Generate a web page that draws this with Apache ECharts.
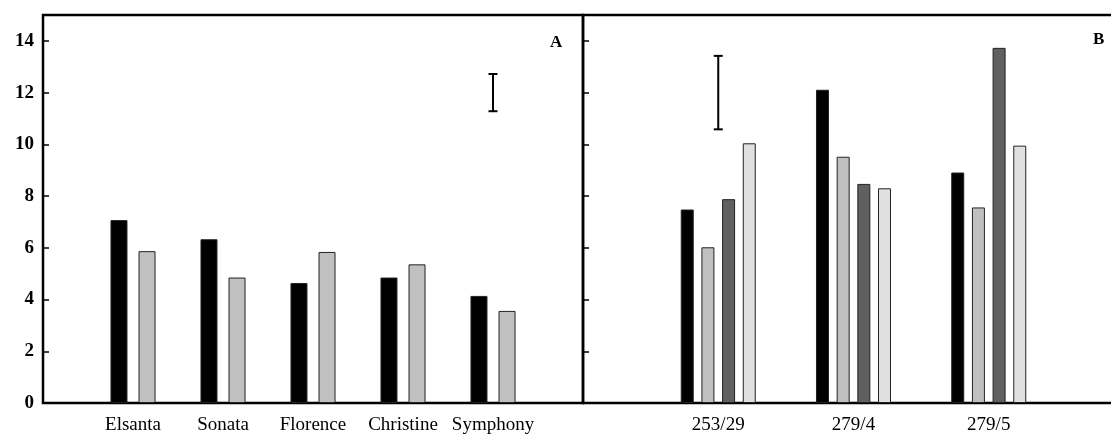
<!DOCTYPE html>
<html>
<head>
<meta charset="utf-8">
<script src="https://cdn.jsdelivr.net/npm/echarts@6/dist/echarts.min.js"></script>
<style>
  html, body { margin: 0; padding: 0; background: #fff; }
  #chart { width: 1111px; height: 434px; }
</style>
</head>
<body>
<div id="chart"></div>
<script>
// panel A: cultivars, two series
const cultivars = ["", "Elsanta", "Sonata", "Florence", "Christine", "Symphony", ""];
const seriesA1 = [null, 7.07, 6.33, 4.64, 4.85, 4.14, null];
const seriesA2 = [null, 5.87, 4.85, 5.84, 5.36, 3.56, null];
const errorA = [5, 11.28, 12.72]; // category index, low, high

// panel B: lines, four series
const lines = ["", "253/29", "279/4", "279/5", ""];
const seriesB1 = [null, 7.48, 12.11, 8.91, null];
const seriesB2 = [null, 6.02, 9.52, 7.56, null];
const seriesB3 = [null, 7.88, 8.47, 13.73, null];
const seriesB4 = [null, 10.04, 8.30, 9.95, null];
const errorB = [1, 10.58, 13.42];

const yMax = 15;
const yStep = 2;

const serif = "Liberation Serif";
const chart = echarts.init(document.getElementById("chart"));

// draws a capped vertical error bar
function errorBar(params, api) {
  const top = api.coord([api.value(0), api.value(2)]);
  const bot = api.coord([api.value(0), api.value(1)]);
  const cap = 4.5;
  const st = { stroke: "#000", lineWidth: 2 };
  return {
    type: "group",
    children: [
      { type: "line", shape: { x1: top[0], y1: top[1], x2: bot[0], y2: bot[1] }, style: st },
      { type: "line", shape: { x1: top[0] - cap, y1: top[1], x2: top[0] + cap, y2: top[1] }, style: st },
      { type: "line", shape: { x1: bot[0] - cap, y1: bot[1], x2: bot[0] + cap, y2: bot[1] }, style: st }
    ]
  };
}

function yAxisOf(idx, labels) {
  return {
    type: "value",
    gridIndex: idx,
    min: 0,
    max: yMax,
    interval: yStep,
    splitLine: { show: false },
    axisLine: { show: false },
    axisTick: { show: true, inside: true, length: 6, lineStyle: { color: "#000", width: 1.5 } },
    axisLabel: {
      show: labels,
      showMaxLabel: false,
      margin: 9,
      color: "#000",
      fontFamily: serif,
      fontWeight: "bold",
      fontSize: 19
    }
  };
}

function xAxisOf(idx, data) {
  return {
    type: "category",
    gridIndex: idx,
    data: data,
    boundaryGap: false,
    axisLine: { show: false },
    axisTick: { show: false },
    splitLine: { show: false },
    axisLabel: {
      interval: 0,
      margin: 13,
      color: "#000",
      fontFamily: serif,
      fontSize: 19
    }
  };
}

const barBorder = { borderColor: "#222", borderWidth: 1 };

chart.setOption({
  animation: false,
  grid: [
    { left: 43, top: 15, width: 540, height: 388, show: true, borderColor: "#000", borderWidth: 2.5,
      outerBoundsMode: "none" },
    { left: 583, top: 15, width: 541, height: 388, show: true, borderColor: "#000", borderWidth: 2.5,
      outerBoundsMode: "none" }
  ],
  xAxis: [xAxisOf(0, cultivars), xAxisOf(1, lines)],
  yAxis: [yAxisOf(0, true), yAxisOf(1, false)],
  graphic: [
    { type: "text", left: 550, top: 34, style: { text: "A", font: "bold 17px " + serif, fill: "#000" } },
    { type: "text", left: 1093, top: 31, style: { text: "B", font: "bold 17px " + serif, fill: "#000" } }
  ],
  series: [
    { type: "bar", xAxisIndex: 0, yAxisIndex: 0, data: seriesA1, barWidth: 17, barGap: "65%",
      itemStyle: Object.assign({ color: "#000" }, barBorder) },
    { type: "bar", xAxisIndex: 0, yAxisIndex: 0, data: seriesA2, barWidth: 17, barGap: "65%",
      itemStyle: Object.assign({ color: "#c0c0c0" }, barBorder) },
    { type: "custom", xAxisIndex: 0, yAxisIndex: 0, data: [errorA], renderItem: errorBar, z: 5 },

    { type: "bar", xAxisIndex: 1, yAxisIndex: 1, data: seriesB1, barWidth: 13, barGap: "59%",
      itemStyle: Object.assign({ color: "#000" }, barBorder) },
    { type: "bar", xAxisIndex: 1, yAxisIndex: 1, data: seriesB2, barWidth: 13, barGap: "59%",
      itemStyle: Object.assign({ color: "#c0c0c0" }, barBorder) },
    { type: "bar", xAxisIndex: 1, yAxisIndex: 1, data: seriesB3, barWidth: 13, barGap: "59%",
      itemStyle: Object.assign({ color: "#606060" }, barBorder) },
    { type: "bar", xAxisIndex: 1, yAxisIndex: 1, data: seriesB4, barWidth: 13, barGap: "59%",
      itemStyle: Object.assign({ color: "#e0e0e0" }, barBorder) },
    { type: "custom", xAxisIndex: 1, yAxisIndex: 1, data: [errorB], renderItem: errorBar, z: 5 }
  ]
});
</script>
</body>
</html>
